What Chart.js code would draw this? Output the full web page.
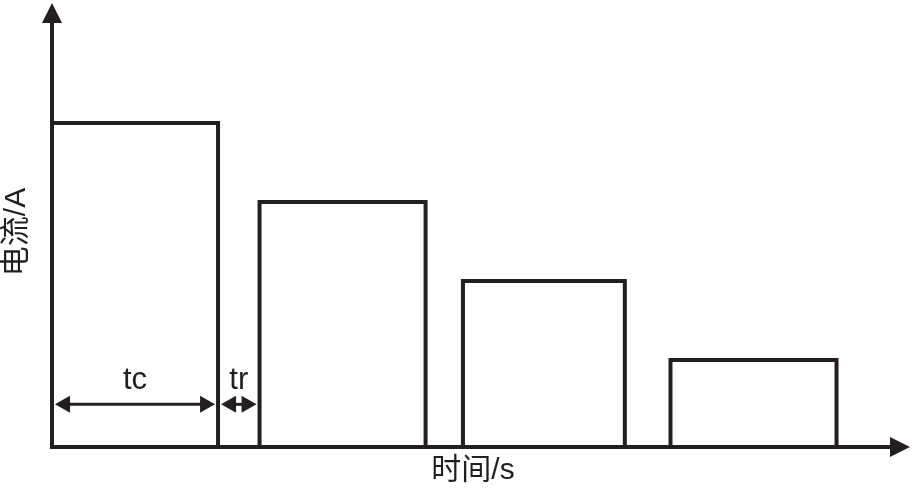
<!DOCTYPE html>
<html>
<head>
<meta charset="utf-8">
<script src="https://cdn.jsdelivr.net/npm/chart.js@4/dist/chart.umd.min.js"></script>
<style>
  html, body { margin: 0; padding: 0; background: #fff; }
  #wrap { width: 917px; height: 491px; }
</style>
</head>
<body>
<div id="wrap"><canvas id="c" width="917" height="491"></canvas></div>
<script>
// pulse timing (s) and current (A)
var pulseStart = [0, 5.0, 9.9, 14.9];
var pulseEnd = [4.0, 9.0, 13.8, 18.9];
var pulseCurrent = [4.1, 3.1, 2.1, 1.1];

// dimension marks
var dimLabels = ['tc', 'tr'];
var dimFrom = [0, 4.0];
var dimTo = [4.0, 5.0];
var dimLevel = 0.54;
var dimTextLevel = 0.74;

var xTitle = '时间/s';
var yTitle = '电流/A';

var ink = '#231f20';

var wave = [];
for (var i = 0; i < pulseStart.length; i++) {
    wave.push({x: pulseStart[i], y: 0});
    wave.push({x: pulseStart[i], y: pulseCurrent[i]});
    wave.push({x: pulseEnd[i], y: pulseCurrent[i]});
    wave.push({x: pulseEnd[i], y: 0});
}

function head(ctx, x, y, dir, len, half) {
    ctx.beginPath();
    ctx.moveTo(x, y);
    ctx.lineTo(x - dir * len, y - half);
    ctx.lineTo(x - dir * len, y + half);
    ctx.closePath();
    ctx.fill();
}

var axesPlugin = {
    id: 'axesPlugin',
    afterDatasetsDraw: function (chart) {
        var ctx = chart.ctx;
        var a = chart.chartArea;
        var xs = chart.scales.x, ys = chart.scales.y;
        var x0 = xs.getPixelForValue(0), y0 = ys.getPixelForValue(0);
        ctx.save();
        ctx.strokeStyle = ink;
        ctx.fillStyle = ink;
        ctx.lineWidth = 4;
        ctx.lineCap = 'butt';
        // y axis with arrow
        ctx.beginPath();
        ctx.moveTo(x0, y0 + 2);
        ctx.lineTo(x0, a.top + 18);
        ctx.stroke();
        ctx.beginPath();
        ctx.moveTo(x0, a.top);
        ctx.lineTo(x0 - 10, a.top + 20);
        ctx.lineTo(x0 + 10, a.top + 20);
        ctx.closePath();
        ctx.fill();
        // x axis with arrow
        ctx.beginPath();
        ctx.moveTo(x0 - 2, y0);
        ctx.lineTo(a.right - 18, y0);
        ctx.stroke();
        head(ctx, a.right, y0, 1, 20, 10);

        // dimension arrows
        ctx.lineWidth = 3;
        var dy = ys.getPixelForValue(dimLevel);
        var ty = ys.getPixelForValue(dimTextLevel);
        ctx.font = '31px "Liberation Sans", Arial, sans-serif';
        ctx.textAlign = 'center';
        ctx.textBaseline = 'alphabetic';
        for (var k = 0; k < dimLabels.length; k++) {
            var p1 = xs.getPixelForValue(dimFrom[k]) + 3;
            var p2 = xs.getPixelForValue(dimTo[k]) - 3;
            ctx.beginPath();
            ctx.moveTo(p1 + 8, dy);
            ctx.lineTo(p2 - 8, dy);
            ctx.stroke();
            head(ctx, p1, dy, -1, 15, 8.5);
            head(ctx, p2, dy, 1, 15, 8.5);
            ctx.fillText(dimLabels[k], (p1 + p2) / 2, ty);
        }

        // axis titles
        ctx.font = '30px "Liberation Sans", "Noto Sans CJK SC", sans-serif';
        ctx.textBaseline = 'middle';
        ctx.fillText(xTitle, 473, 471);
        ctx.translate(17, 232);
        ctx.rotate(-Math.PI / 2);
        ctx.fillText(yTitle, 0, 0);
        ctx.restore();
    }
};

new Chart(document.getElementById('c'), {
    type: 'line',
    data: {
        datasets: [{
            data: wave,
            borderColor: ink,
            borderWidth: 4,
            borderJoinStyle: 'miter',
            pointRadius: 0,
            tension: 0,
            fill: false
        }]
    },
    options: {
        responsive: false,
        animation: false,
        layout: {
            padding: {left: 52, right: 7, top: 3, bottom: 44}
        },
        plugins: {
            legend: {display: false},
            tooltip: {enabled: false}
        },
        scales: {
            x: {type: 'linear', display: false, min: 0, max: 20.67},
            y: {type: 'linear', display: false, min: 0, max: 5.62}
        }
    },
    plugins: [axesPlugin]
});
</script>
</body>
</html>
